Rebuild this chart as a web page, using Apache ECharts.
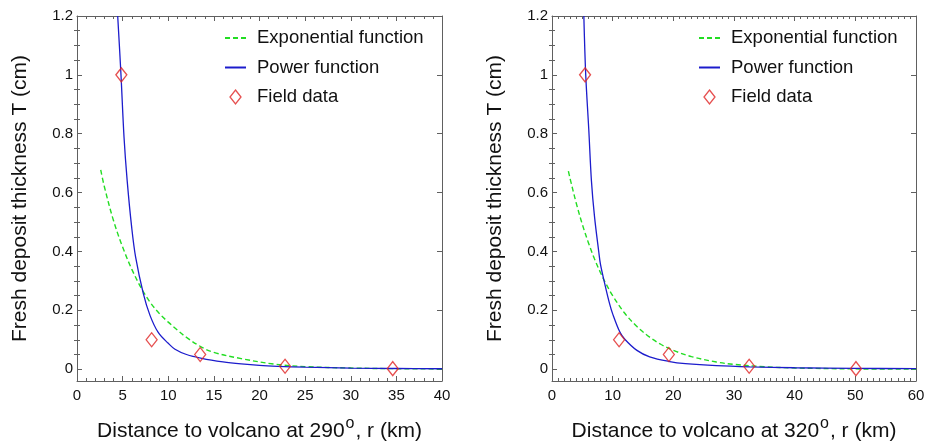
<!DOCTYPE html>
<html>
<head>
<meta charset="utf-8">
<script src="https://cdn.jsdelivr.net/npm/echarts@6.0.0/dist/echarts.min.js"></script>
<style>html,body{margin:0;padding:0;background:#fff}#c{width:925px;height:443px}</style>
</head>
<body>
<div id="c"></div>
<script>
// ---------- data ----------
const seriesNames = ['Exponential function', 'Power function', 'Field data'];
const yTickLabels = [0, 0.2, 0.4, 0.6, 0.8, 1, 1.2];
const yMinorTicks = [0.05, 0.1, 0.15, 0.25, 0.3, 0.35, 0.45, 0.5, 0.55, 0.65, 0.7, 0.75, 0.85, 0.9, 0.95, 1.05, 1.1, 1.15];

// Left panel (290°)
const leftFieldR = [4.86, 8.18, 13.5, 22.8, 34.6];
const leftFieldT = [1.0, 0.1, 0.05, 0.01, 0.002];
const leftPowR = [4.46, 4.82, 5.15, 5.5, 6, 6.43, 7.27, 8, 8.9, 10, 10.74, 12, 13.67, 16, 18, 20, 22, 25, 30, 35, 40];
const leftPowT = [1.2, 1.0, 0.79, 0.64, 0.48, 0.38, 0.257, 0.183, 0.125, 0.088, 0.068, 0.05, 0.037, 0.025, 0.018, 0.013, 0.01, 0.007, 0.004, 0.0025, 0.0017];
const leftExpR = [2.6, 3, 4, 5, 6, 7, 8, 9, 10, 11, 12, 13.6, 15, 18, 21.7, 25, 30, 35, 40];
const leftExpT = [0.677, 0.62, 0.505, 0.415, 0.34, 0.278, 0.228, 0.19, 0.16, 0.133, 0.108, 0.076, 0.057, 0.036, 0.017, 0.009, 0.004, 0.0018, 0.0008];

// Right panel (320°)
const rightFieldR = [5.45, 11.06, 19.26, 32.5, 50.1];
const rightFieldT = [1.0, 0.1, 0.05, 0.01, 0.002];
const rightPowR = [5.25, 5.56, 6.06, 6.5, 7, 7.7, 8, 8.7, 9.5, 10, 11.17, 12, 14, 16.1, 19.4, 22, 27.1, 32.6, 40, 50, 60];
const rightPowT = [1.2, 1.0, 0.815, 0.64, 0.52, 0.4, 0.355, 0.29, 0.222, 0.188, 0.127, 0.102, 0.064, 0.042, 0.026, 0.019, 0.012, 0.008, 0.005, 0.003, 0.002];
const rightExpR = [2.7, 3, 4, 5, 6, 7, 8, 8.7, 10, 12, 14, 16.1, 18, 20, 23, 27.1, 30, 35, 40, 50, 60];
const rightExpT = [0.673, 0.646, 0.564, 0.492, 0.43, 0.375, 0.328, 0.298, 0.25, 0.19, 0.145, 0.109, 0.084, 0.064, 0.043, 0.0245, 0.0165, 0.0084, 0.0043, 0.0011, 0.0003];

const leftXTitle = 'Distance to volcano at 290{sup|o}, r (km)';
const rightXTitle = 'Distance to volcano at 320{sup|o}, r (km)';
const yTitle = 'Fresh deposit thickness T (cm)';

// ---------- helpers ----------
const FONT = '"Liberation Sans", Arial, sans-serif';
const AX = '#606060';
const pairs = (xs, ys) => xs.map((x, i) => [x, ys[i]]);

function xAxes(grid, max, interval, minorSplit, title) {
  const common = {
    gridIndex: grid, type: 'value', min: 0, max: max, interval: interval,
    axisLine: { show: true, onZero: false, lineStyle: { color: AX, width: 1 } },
    axisTick: { show: true, inside: true, length: 5, lineStyle: { color: AX } },
    minorTick: { show: true, splitNumber: minorSplit, length: 3, lineStyle: { color: AX } },
    splitLine: { show: false }
  };
  return [
    Object.assign({}, common, {
      position: 'bottom',
      axisLabel: { show: true, fontSize: 15, color: '#111', fontFamily: FONT, margin: 7 },
      name: title, nameLocation: 'middle', nameGap: 35,
      nameTextStyle: {
        fontSize: 21, color: '#111', fontFamily: FONT,
        rich: { sup: { fontSize: 16, color: '#111', fontFamily: FONT, verticalAlign: 'top', padding: [0, 1, 14, 1] } }
      }
    }),
    Object.assign({}, common, { position: 'top', axisLabel: { show: false } })
  ];
}

function yAxes(grid) {
  const base = {
    gridIndex: grid, type: 'value', min: -0.04, max: 1.2,
    splitLine: { show: false }
  };
  return [
    Object.assign({}, base, {
      position: 'left',
      axisLine: { show: true, onZero: false, lineStyle: { color: AX } },
      axisTick: { show: true, inside: true, length: 5, customValues: yTickLabels, lineStyle: { color: AX } },
      axisLabel: { show: true, customValues: yTickLabels, fontSize: 15, color: '#111', fontFamily: FONT, margin: 4 },
      name: yTitle, nameLocation: 'middle', nameGap: 46, nameRotate: 90,
      nameTextStyle: { fontSize: 21, color: '#111', fontFamily: FONT }
    }),
    Object.assign({}, base, {
      position: 'left',
      axisLine: { show: false },
      axisTick: { show: true, inside: true, length: 3, customValues: yMinorTicks, lineStyle: { color: AX } },
      axisLabel: { show: false }
    }),
    Object.assign({}, base, {
      position: 'right',
      axisLine: { show: true, onZero: false, lineStyle: { color: AX } },
      axisTick: { show: true, inside: true, length: 5, customValues: yTickLabels, lineStyle: { color: AX } },
      axisLabel: { show: false }
    }),
    Object.assign({}, base, {
      position: 'right',
      axisLine: { show: false },
      axisTick: { show: true, inside: true, length: 3, customValues: yMinorTicks, lineStyle: { color: AX } },
      axisLabel: { show: false }
    })
  ];
}

function panelSeries(xIdx, yIdx, expR, expT, powR, powT, fR, fT) {
  return [
    {
      name: seriesNames[0], type: 'line', xAxisIndex: xIdx, yAxisIndex: yIdx,
      data: pairs(expR, expT), showSymbol: false, symbol: 'none', smooth: 0.35,
      lineStyle: { color: '#22dd22', width: 1.4, type: [5, 3] }, itemStyle: { color: '#22dd22' }, z: 2
    },
    {
      name: seriesNames[1], type: 'line', xAxisIndex: xIdx, yAxisIndex: yIdx,
      data: pairs(powR, powT), showSymbol: false, symbol: 'none', smooth: 0.35,
      lineStyle: { color: '#1c1ccc', width: 1.3 }, itemStyle: { color: '#1c1ccc' }, z: 3
    },
    {
      name: seriesNames[2], type: 'scatter', xAxisIndex: xIdx, yAxisIndex: yIdx,
      data: pairs(fR, fT), symbol: 'diamond', symbolSize: [11, 14],
      itemStyle: { color: 'rgba(255,255,255,0)', borderColor: '#e02424', borderWidth: 1.3 }, z: 4
    }
  ];
}

function legendAt(left) {
  return {
    orient: 'vertical', left: left, top: 28, itemGap: 9.5, padding: 0,
    itemWidth: 21, itemHeight: 14,
    data: [
      { name: seriesNames[0], itemStyle: { opacity: 0 } },
      { name: seriesNames[1], itemStyle: { opacity: 0 } },
      { name: seriesNames[2], icon: 'path://M5.5,0 L11,7 L5.5,14 L0,7 Z',
        itemStyle: { color: 'rgba(255,255,255,0)', borderColor: '#e02424', borderWidth: 1.3 } }
    ],
    textStyle: { fontSize: 18.5, lineHeight: 20, color: '#111', fontFamily: FONT, padding: [0, 0, 0, 6] },
    selectedMode: false
  };
}

const chart = echarts.init(document.getElementById('c'), null, { renderer: 'canvas' });
chart.setOption({
  animation: false,
  backgroundColor: '#fff',
  grid: [
    { left: 77, top: 16, width: 365, height: 365, outerBoundsMode: 'none', containLabel: false },
    { left: 552, top: 16, width: 364, height: 365, outerBoundsMode: 'none', containLabel: false }
  ],
  legend: [legendAt(224), legendAt(698)],
  xAxis: [].concat(xAxes(0, 40, 5, 5, leftXTitle), xAxes(1, 60, 10, 10, rightXTitle)),
  yAxis: [].concat(yAxes(0), yAxes(1)),
  series: [].concat(
    panelSeries(0, 0, leftExpR, leftExpT, leftPowR, leftPowT, leftFieldR, leftFieldT),
    panelSeries(2, 4, rightExpR, rightExpT, rightPowR, rightPowT, rightFieldR, rightFieldT)
  )
});
</script>
</body>
</html>
